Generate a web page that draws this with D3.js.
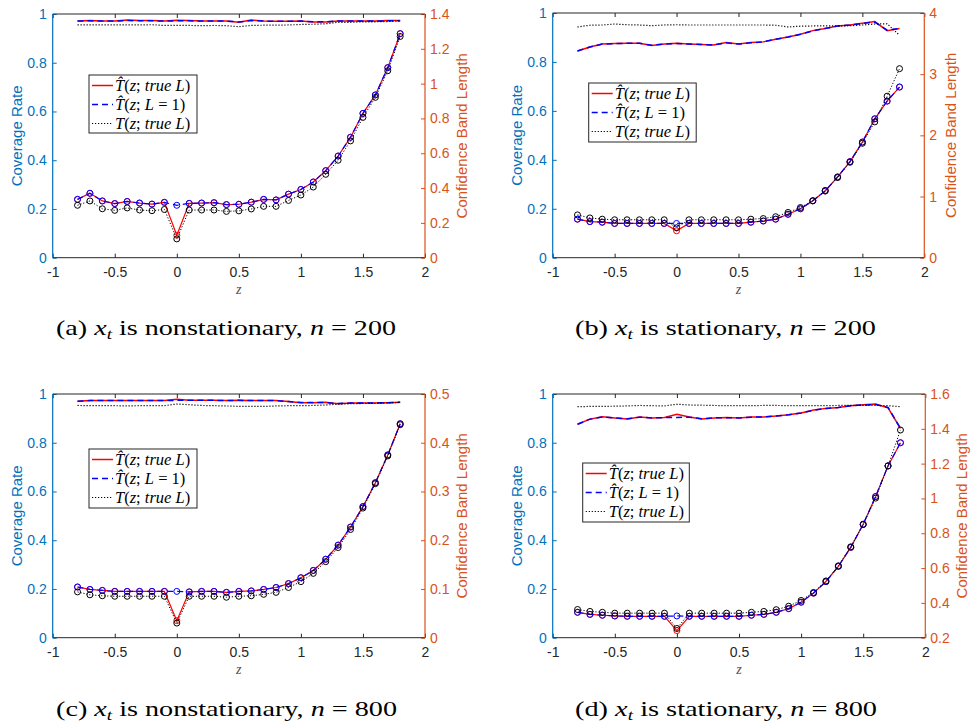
<!DOCTYPE html>
<html>
<head>
<meta charset="utf-8">
<script src="https://cdn.jsdelivr.net/npm/d3@7"></script>
<style>
  body { margin: 0; background: #fff; }
  svg { display: block; }
</style>
</head>
<body>
<div id="chart"></div>
<script>

// z grid used in all four panels
var zValues = [-0.8, -0.7, -0.6, -0.5, -0.4, -0.3, -0.2, -0.1, 0, 0.1, 0.2, 0.3, 0.4,
  0.5, 0.6, 0.7, 0.8, 0.9, 1.0, 1.1, 1.2, 1.3, 1.4, 1.5, 1.6, 1.7, 1.8];

// (a) nonstationary, n = 200
var covRedA = [0.971, 0.973, 0.971, 0.971, 0.975, 0.973, 0.973, 0.971, 0.974, 0.973, 0.971, 0.971, 0.971,
  0.966, 0.975, 0.971, 0.970, 0.970, 0.971, 0.967, 0.967, 0.971, 0.971, 0.971, 0.971, 0.973, 0.973];
var covBlueA = [0.971, 0.972, 0.971, 0.971, 0.973, 0.972, 0.972, 0.971, 0.972, 0.972, 0.971, 0.971, 0.971,
  0.967, 0.973, 0.971, 0.970, 0.970, 0.971, 0.968, 0.968, 0.971, 0.971, 0.971, 0.971, 0.972, 0.972];
var covBlackA = [0.955, 0.955, 0.955, 0.955, 0.955, 0.955, 0.956, 0.953, 0.953, 0.953, 0.952, 0.953, 0.952,
  0.948, 0.953, 0.954, 0.954, 0.955, 0.957, 0.958, 0.960, 0.966, 0.966, 0.968, 0.968, 0.969, 0.971];
var lenRedA = [0.335, 0.370, 0.326, 0.311, 0.323, 0.314, 0.308, 0.318, 0.129, 0.312, 0.314, 0.316, 0.305,
  0.307, 0.319, 0.335, 0.332, 0.365, 0.392, 0.435, 0.500, 0.584, 0.692, 0.829, 0.935, 1.092, 1.287];
var lenBlueA = [0.335, 0.370, 0.326, 0.311, 0.323, 0.314, 0.308, 0.318, 0.301, 0.312, 0.314, 0.316, 0.305,
  0.307, 0.319, 0.335, 0.332, 0.365, 0.392, 0.435, 0.500, 0.584, 0.692, 0.829, 0.935, 1.092, 1.287];
var lenBlackA = [0.301, 0.326, 0.281, 0.272, 0.286, 0.274, 0.270, 0.277, 0.108, 0.274, 0.274, 0.274, 0.266,
  0.269, 0.280, 0.295, 0.295, 0.329, 0.360, 0.406, 0.479, 0.560, 0.671, 0.806, 0.921, 1.074, 1.271];

// (b) stationary, n = 200
var covRedB = [0.845, 0.861, 0.873, 0.875, 0.876, 0.876, 0.867, 0.873, 0.876, 0.873, 0.871, 0.869, 0.879,
  0.873, 0.879, 0.882, 0.893, 0.902, 0.913, 0.928, 0.937, 0.947, 0.951, 0.958, 0.965, 0.928, 0.937];
var covBlueB = [0.845, 0.861, 0.873, 0.875, 0.876, 0.876, 0.868, 0.873, 0.875, 0.873, 0.871, 0.869, 0.878,
  0.873, 0.878, 0.882, 0.893, 0.902, 0.913, 0.927, 0.937, 0.947, 0.951, 0.957, 0.963, 0.930, 0.937];
var covBlackB = [0.943, 0.950, 0.951, 0.955, 0.952, 0.951, 0.948, 0.951, 0.952, 0.951, 0.951, 0.951, 0.951,
  0.951, 0.951, 0.951, 0.950, 0.943, 0.946, 0.947, 0.947, 0.947, 0.948, 0.951, 0.955, 0.956, 0.909];
var lenRedB = [0.63, 0.59, 0.58, 0.56, 0.56, 0.56, 0.56, 0.56, 0.44, 0.56, 0.56, 0.56, 0.56,
  0.56, 0.58, 0.60, 0.63, 0.71, 0.80, 0.93, 1.09, 1.32, 1.57, 1.89, 2.27, 2.56, 2.79];
var lenBlueB = [0.63, 0.59, 0.58, 0.56, 0.56, 0.56, 0.56, 0.56, 0.56, 0.56, 0.56, 0.56, 0.56,
  0.56, 0.58, 0.60, 0.63, 0.71, 0.80, 0.93, 1.09, 1.32, 1.57, 1.89, 2.27, 2.56, 2.79];
var lenBlackB = [0.70, 0.65, 0.63, 0.62, 0.62, 0.62, 0.62, 0.62, 0.49, 0.62, 0.62, 0.62, 0.62,
  0.62, 0.63, 0.64, 0.67, 0.74, 0.82, 0.93, 1.10, 1.31, 1.56, 1.87, 2.22, 2.64, 3.09];

// (c) nonstationary, n = 800
var covRedC = [0.970, 0.973, 0.973, 0.973, 0.973, 0.973, 0.973, 0.973, 0.978, 0.974, 0.974, 0.974, 0.973,
  0.974, 0.973, 0.973, 0.973, 0.969, 0.964, 0.964, 0.966, 0.960, 0.963, 0.963, 0.963, 0.964, 0.966];
var covBlueC = [0.970, 0.973, 0.973, 0.973, 0.973, 0.973, 0.973, 0.973, 0.974, 0.974, 0.974, 0.974, 0.973,
  0.974, 0.973, 0.973, 0.973, 0.969, 0.965, 0.965, 0.965, 0.961, 0.963, 0.963, 0.963, 0.964, 0.966];
var covBlackC = [0.953, 0.952, 0.952, 0.952, 0.951, 0.952, 0.952, 0.952, 0.959, 0.956, 0.953, 0.952, 0.951,
  0.949, 0.949, 0.949, 0.951, 0.952, 0.952, 0.953, 0.955, 0.958, 0.960, 0.961, 0.962, 0.963, 0.966];
var lenRedC = [0.104, 0.099, 0.097, 0.095, 0.095, 0.095, 0.095, 0.095, 0.035, 0.094, 0.095, 0.095, 0.093,
  0.095, 0.096, 0.099, 0.103, 0.111, 0.123, 0.138, 0.161, 0.190, 0.227, 0.269, 0.318, 0.375, 0.439];
var lenBlueC = [0.104, 0.099, 0.097, 0.095, 0.095, 0.095, 0.095, 0.095, 0.095, 0.094, 0.095, 0.095, 0.093,
  0.095, 0.096, 0.099, 0.103, 0.111, 0.123, 0.138, 0.161, 0.190, 0.227, 0.269, 0.318, 0.375, 0.439];
var lenBlackC = [0.094, 0.088, 0.086, 0.085, 0.085, 0.085, 0.085, 0.085, 0.030, 0.085, 0.085, 0.085, 0.083,
  0.085, 0.086, 0.089, 0.093, 0.103, 0.115, 0.132, 0.156, 0.185, 0.222, 0.266, 0.316, 0.373, 0.437];

// (d) stationary, n = 800
var covRedD = [0.876, 0.897, 0.907, 0.902, 0.897, 0.906, 0.902, 0.904, 0.917, 0.906, 0.897, 0.902, 0.904,
  0.902, 0.906, 0.906, 0.910, 0.915, 0.922, 0.934, 0.941, 0.945, 0.952, 0.956, 0.959, 0.943, 0.859];
var covBlueD = [0.876, 0.897, 0.906, 0.902, 0.898, 0.905, 0.902, 0.903, 0.904, 0.905, 0.898, 0.902, 0.903,
  0.902, 0.905, 0.906, 0.910, 0.915, 0.922, 0.933, 0.941, 0.945, 0.952, 0.955, 0.957, 0.945, 0.859];
var covBlackD = [0.948, 0.949, 0.949, 0.950, 0.951, 0.953, 0.952, 0.951, 0.958, 0.955, 0.954, 0.953, 0.952,
  0.952, 0.952, 0.953, 0.953, 0.952, 0.952, 0.952, 0.952, 0.953, 0.953, 0.953, 0.953, 0.952, 0.948];
var lenRedD = [0.346, 0.334, 0.329, 0.325, 0.323, 0.323, 0.323, 0.323, 0.241, 0.323, 0.323, 0.323, 0.323,
  0.323, 0.329, 0.334, 0.346, 0.367, 0.404, 0.456, 0.522, 0.610, 0.719, 0.852, 1.011, 1.187, 1.320];
var lenBlueD = [0.346, 0.334, 0.329, 0.325, 0.323, 0.323, 0.323, 0.323, 0.325, 0.323, 0.323, 0.323, 0.323,
  0.323, 0.329, 0.334, 0.346, 0.367, 0.404, 0.456, 0.522, 0.610, 0.719, 0.852, 1.011, 1.187, 1.320];
var lenBlackD = [0.362, 0.351, 0.346, 0.341, 0.341, 0.341, 0.341, 0.341, 0.253, 0.341, 0.341, 0.341, 0.341,
  0.341, 0.346, 0.351, 0.361, 0.381, 0.414, 0.460, 0.526, 0.613, 0.722, 0.850, 1.002, 1.187, 1.393];

// tick labels
var xTicks = [-1, -0.5, 0, 0.5, 1, 1.5, 2];
var leftTicks = [0, 0.2, 0.4, 0.6, 0.8, 1];
var rightTicksA = [0, 0.2, 0.4, 0.6, 0.8, 1, 1.2, 1.4];
var rightTicksB = [0, 1, 2, 3, 4];
var rightTicksC = [0, 0.1, 0.2, 0.3, 0.4, 0.5];
var rightTicksD = [0.2, 0.4, 0.6, 0.8, 1, 1.2, 1.4, 1.6];

var legendNames = ["hatTrue", "hatOne", "plainTrue"];

var svgWidth = 972;
var svgHeight = 726;

var leftColor = "#0072BD";
var rightColor = "#D95319";
var boxColor = "#262626";
var sansFont = "'Liberation Sans', Helvetica, Arial, sans-serif";
var serifFont = "'Liberation Serif', 'DejaVu Serif', serif";

var svg = d3.select("#chart")
  .append("svg")
  .attr("width", svgWidth)
  .attr("height", svgHeight);

var panels = [
  { left: 52.7, right: 425, top: 14, bottom: 257.7, rDomain: [0, 1.4], rTicks: rightTicksA, rLabelX: 37,
    cov: [covRedA, covBlueA, covBlackA], len: [lenRedA, lenBlueA, lenBlackA],
    legend: [89, 75, 108, 58], caption: ["(a)", "nonstationary", "200"], capX: 56, capW: 340, capY: 335 },
  { left: 552.7, right: 924.3, top: 13, bottom: 257.7, rDomain: [0, 4], rTicks: rightTicksB, rLabelX: 26,
    cov: [covRedB, covBlueB, covBlackB], len: [lenRedB, lenBlueB, lenBlackB],
    legend: [588.7, 83, 107.5, 59], caption: ["(b)", "stationary", "200"], capX: 575, capW: 301, capY: 335 },
  { left: 52.7, right: 425, top: 394, bottom: 637.7, rDomain: [0, 0.5], rTicks: rightTicksC, rLabelX: 37,
    cov: [covRedC, covBlueC, covBlackC], len: [lenRedC, lenBlueC, lenBlackC],
    legend: [89, 449, 108, 59], caption: ["(c)", "nonstationary", "800"], capX: 56, capW: 341, capY: 716 },
  { left: 552.7, right: 925.3, top: 394, bottom: 637.7, rDomain: [0.2, 1.6], rTicks: rightTicksD, rLabelX: 36,
    cov: [covRedD, covBlueD, covBlackD], len: [lenRedD, lenBlueD, lenBlackD],
    legend: [582.7, 463, 106.6, 59], caption: ["(d)", "stationary", "800"], capX: 575, capW: 302, capY: 716 }
];

var seriesStyle = [
  { color: "#ff0000", dash: null, width: 1.5 },
  { color: "#0000ff", dash: "6,4", width: 1.5 },
  { color: "#000000", dash: "1.2,1.8", width: 1.2 }
];

function fmt(d) {
  return String(+d.toFixed(2));
}

panels.forEach(function(p) {
  var g = svg.append("g");

  var xScale = d3.scaleLinear().domain([-1, 2]).range([p.left, p.right]);
  var yLeft = d3.scaleLinear().domain([0, 1]).range([p.bottom, p.top]);
  var yRight = d3.scaleLinear().domain(p.rDomain).range([p.bottom, p.top]);

  // bottom axis
  var bottomAxis = d3.axisBottom(xScale).tickValues(xTicks).tickFormat(fmt)
    .tickSizeInner(-4).tickSizeOuter(0).tickPadding(9.5);
  var bx = g.append("g")
    .attr("transform", `translate(0, ${p.bottom})`)
    .call(bottomAxis);
  bx.select(".domain").remove();
  bx.selectAll("line").attr("stroke", boxColor);
  bx.selectAll("text").attr("fill", boxColor).attr("font-size", 14).attr("font-family", sansFont);

  // top ticks
  var topAxis = d3.axisTop(xScale).tickValues(xTicks).tickFormat("")
    .tickSizeInner(-4).tickSizeOuter(0);
  var tx = g.append("g")
    .attr("transform", `translate(0, ${p.top})`)
    .call(topAxis);
  tx.select(".domain").remove();
  tx.selectAll("text").remove();
  tx.selectAll("line").attr("stroke", boxColor);

  // left axis
  var leftAxis = d3.axisLeft(yLeft).tickValues(leftTicks).tickFormat(fmt)
    .tickSizeInner(-4).tickSizeOuter(0).tickPadding(6);
  var lx = g.append("g")
    .attr("transform", `translate(${p.left}, 0)`)
    .call(leftAxis);
  lx.select(".domain").remove();
  lx.selectAll("line").attr("stroke", leftColor);
  lx.selectAll("text").attr("fill", leftColor).attr("font-size", 14).attr("font-family", sansFont);

  // right axis
  var rightAxis = d3.axisRight(yRight).tickValues(p.rTicks).tickFormat(fmt)
    .tickSizeInner(-4).tickSizeOuter(0).tickPadding(5);
  var rx = g.append("g")
    .attr("transform", `translate(${p.right}, 0)`)
    .call(rightAxis);
  rx.select(".domain").remove();
  rx.selectAll("line").attr("stroke", rightColor);
  rx.selectAll("text").attr("fill", rightColor).attr("font-size", 14).attr("font-family", sansFont);

  // box
  g.append("line").attr("x1", p.left).attr("x2", p.right).attr("y1", p.top).attr("y2", p.top)
    .attr("stroke", boxColor).attr("stroke-width", 1);
  g.append("line").attr("x1", p.left).attr("x2", p.right).attr("y1", p.bottom).attr("y2", p.bottom)
    .attr("stroke", boxColor).attr("stroke-width", 1);
  g.append("line").attr("x1", p.left).attr("x2", p.left).attr("y1", p.top).attr("y2", p.bottom)
    .attr("stroke", leftColor).attr("stroke-width", 1.2);
  g.append("line").attr("x1", p.right).attr("x2", p.right).attr("y1", p.top).attr("y2", p.bottom)
    .attr("stroke", rightColor).attr("stroke-width", 1.2);

  // axis titles
  g.append("text")
    .attr("transform", `translate(${p.left - 35.5}, ${(p.top + p.bottom) / 2}) rotate(-90)`)
    .attr("text-anchor", "middle")
    .attr("dy", "0.35em")
    .attr("fill", leftColor)
    .attr("font-size", 15)
    .attr("font-family", sansFont)
    .text("Coverage Rate");

  g.append("text")
    .attr("transform", `translate(${p.right + p.rLabelX}, ${(p.top + p.bottom) / 2}) rotate(-90)`)
    .attr("text-anchor", "middle")
    .attr("dy", "0.35em")
    .attr("fill", rightColor)
    .attr("font-size", 15)
    .attr("font-family", sansFont)
    .text("Confidence Band Length");

  g.append("text")
    .attr("x", (p.left + p.right) / 2)
    .attr("y", p.bottom + 36)
    .attr("text-anchor", "middle")
    .attr("fill", "#505050")
    .attr("font-size", 14)
    .attr("font-style", "italic")
    .attr("font-family", serifFont)
    .text("z");

  // coverage lines (left axis)
  p.cov.forEach(function(vals, i) {
    var st = seriesStyle[i];
    var line = d3.line()
      .x(function(d, j) { return xScale(zValues[j]); })
      .y(function(d) { return yLeft(d); });
    g.append("path")
      .datum(vals)
      .attr("d", line)
      .attr("fill", "none")
      .attr("stroke", st.color)
      .attr("stroke-width", st.width)
      .attr("stroke-dasharray", st.dash);
  });

  // band length lines with circle markers (right axis)
  p.len.forEach(function(vals, i) {
    var st = seriesStyle[i];
    var line = d3.line()
      .x(function(d, j) { return xScale(zValues[j]); })
      .y(function(d) { return yRight(d); });
    g.append("path")
      .datum(vals)
      .attr("d", line)
      .attr("fill", "none")
      .attr("stroke", st.color)
      .attr("stroke-width", i == 2 ? 1 : 1.2)
      .attr("stroke-dasharray", st.dash);
    g.selectAll(null)
      .data(vals)
      .enter()
      .append("circle")
      .attr("cx", function(d, j) { return xScale(zValues[j]); })
      .attr("cy", function(d) { return yRight(d); })
      .attr("r", 3)
      .attr("fill", "none")
      .attr("stroke", st.color)
      .attr("stroke-width", 1);
  });

  // legend
  var lg = g.append("g").attr("transform", `translate(${p.legend[0]}, ${p.legend[1]})`);
  lg.append("rect")
    .attr("width", p.legend[2])
    .attr("height", p.legend[3])
    .attr("fill", "#fff")
    .attr("stroke", boxColor)
    .attr("stroke-width", 1);

  legendNames.forEach(function(name, i) {
    var st = seriesStyle[i];
    var cy = 10.5 + i * 19;
    lg.append("line")
      .attr("x1", 3).attr("x2", 24)
      .attr("y1", cy).attr("y2", cy)
      .attr("stroke", st.color)
      .attr("stroke-width", st.width)
      .attr("stroke-dasharray", st.dash);
    var t = lg.append("text")
      .attr("x", 26)
      .attr("y", cy + 5)
      .attr("font-size", 16.5)
      .attr("font-family", serifFont)
      .attr("fill", "#000");
    t.append("tspan").attr("font-style", "italic").text(name == "plainTrue" ? "T" : "T\u0302");
    t.append("tspan").text("(");
    t.append("tspan").attr("font-style", "italic").text("z");
    t.append("tspan").text("; ");
    if (name == "hatOne") {
      t.append("tspan").attr("font-style", "italic").text("L");
      t.append("tspan").text(" = 1)");
    } else {
      t.append("tspan").attr("font-style", "italic").text("true L");
      t.append("tspan").text(")");
    }
  });

  // caption
  var c = svg.append("text")
    .attr("x", p.capX)
    .attr("y", p.capY)
    .attr("font-size", 22)
    .attr("font-family", serifFont)
    .attr("fill", "#000")
    .attr("textLength", p.capW)
    .attr("lengthAdjust", "spacingAndGlyphs");
  c.append("tspan").text(p.caption[0] + "  ");
  c.append("tspan").attr("font-style", "italic").text("x");
  c.append("tspan").attr("font-style", "italic").attr("font-size", 15).attr("baseline-shift", "-25%").text("t");
  c.append("tspan").text(" is " + p.caption[1] + ", ");
  c.append("tspan").attr("font-style", "italic").text("n");
  c.append("tspan").text(" = " + p.caption[2]);
});

</script>
</body>
</html>
